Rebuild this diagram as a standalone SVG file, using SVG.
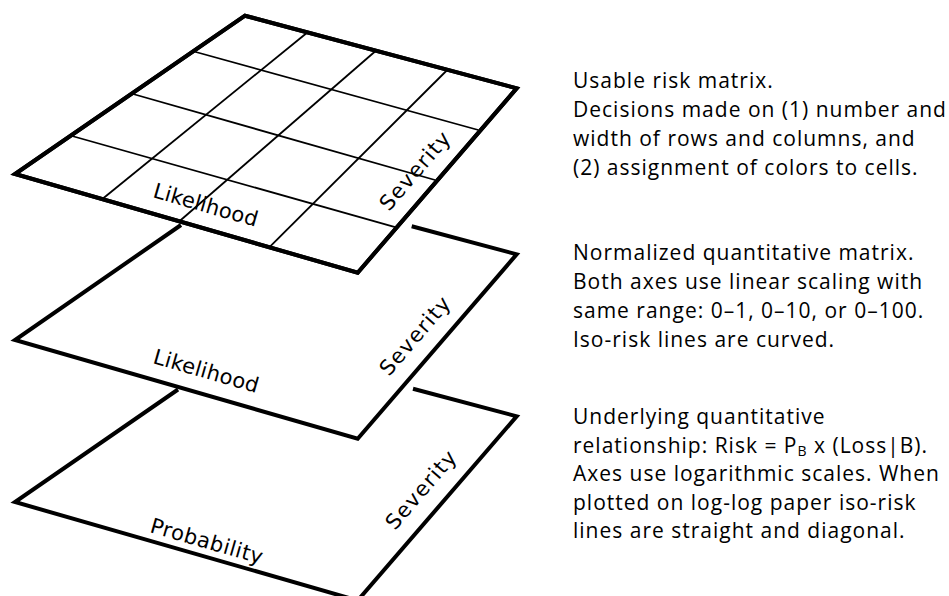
<svg xmlns="http://www.w3.org/2000/svg" width="949" height="596" viewBox="0 0 949 596">
<style>
.edge{fill:none;stroke:#000;stroke-width:4;stroke-linejoin:miter;stroke-linecap:butt}
.face{fill:#fff;stroke:#000;stroke-width:4;stroke-linejoin:miter}
.grid{fill:none;stroke:#000;stroke-width:1.8}
.lbl{font-family:"DejaVu Sans",Verdana,sans-serif;font-size:21px;fill:#000}
.sev{letter-spacing:1.3px}
.desc{font-family:"Open Sans","Liberation Sans",sans-serif;font-size:21px;letter-spacing:1px;fill:#000}
</style>
<rect width="949" height="596" fill="#fff"/>
<g id="bottom-matrix">
<polyline class="edge" points="178,389.5 15,502 357.7,600.5 516.7,416.3 413,388.7"/>
<text class="lbl" letter-spacing="0.5" transform="translate(149,532) rotate(16.07)">Probability</text>
<text class="lbl sev" transform="translate(395,531) rotate(-49.2)">Severity</text>
</g>
<g id="middle-matrix">
<polyline class="edge" points="181,225 15,340 357.7,438.7 516.7,254.3 411.7,226.3"/>
<text class="lbl" letter-spacing="0.3" transform="translate(152,363) rotate(16.07)">Likelihood</text>
<text class="lbl sev" transform="translate(389,377) rotate(-49.2)">Severity</text>
</g>
<g id="top-matrix">
<polygon class="face" points="245,15.7 516.7,88.3 357.7,272.7 15,174"/>
<line class="grid" x1="194" y1="51.5" x2="478.3" y2="130"/>
<line class="grid" x1="133" y1="94" x2="435" y2="180"/>
<line class="grid" x1="72" y1="136" x2="396" y2="227.3"/>
<line class="grid" x1="306.7" y1="33" x2="103.3" y2="198.3"/>
<line class="grid" x1="375" y1="51.5" x2="180" y2="220.7"/>
<line class="grid" x1="446.7" y1="70.5" x2="270" y2="246.7"/>
<polygon class="edge" points="245,15.7 516.7,88.3 357.7,272.7 15,174"/>
<text class="lbl" letter-spacing="0.2" transform="translate(152,197) rotate(16.07)">Likelihood</text>
<text class="lbl sev" transform="translate(389,212) rotate(-49.2)">Severity</text>
</g>
<g id="desc-top">
<text class="desc" x="573" y="88">Usable risk matrix.</text>
<text class="desc" x="573" y="117">Decisions made on (1) number and</text>
<text class="desc" x="573" y="146">width of rows and columns, and</text>
<text class="desc" x="573" y="175">(2) assignment of colors to cells.</text>
</g>
<g id="desc-middle">
<text class="desc" x="573" y="260">Normalized quantitative matrix.</text>
<text class="desc" x="573" y="289">Both axes use linear scaling with</text>
<text class="desc" x="573" y="318">same range: 0–1, 0–10, or 0–100.</text>
<text class="desc" x="573" y="347">Iso-risk lines are curved.</text>
</g>
<g id="desc-bottom">
<text class="desc" x="573" y="424">Underlying quantitative</text>
<text class="desc" x="573" y="452.5">relationship: Risk = P<tspan font-size="14" dy="3">B</tspan><tspan dy="-3"> x (Loss|B).</tspan></text>
<text class="desc" x="573" y="481">Axes use logarithmic scales. When</text>
<text class="desc" x="573" y="509.5">plotted on log-log paper iso-risk</text>
<text class="desc" x="573" y="538">lines are straight and diagonal.</text>
</g>
</svg>
